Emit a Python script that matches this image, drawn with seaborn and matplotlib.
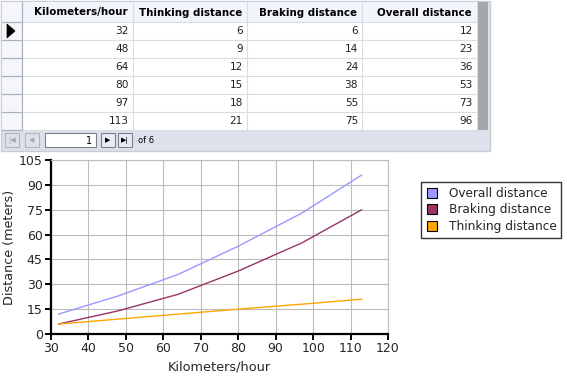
import matplotlib
matplotlib.use("Agg")
import matplotlib.pyplot as plt
import seaborn as sns
import pandas as pd
from matplotlib.patches import Rectangle, Polygon
from matplotlib.lines import Line2D

# ---- data ----
speed_kmh = [32, 48, 64, 80, 97, 113]
thinking = [6, 9, 12, 15, 18, 21]
braking = [6, 14, 24, 38, 55, 75]
overall = [12, 23, 36, 53, 73, 96]
columns = ["Kilometers/hour", "Thinking distance", "Braking distance", "Overall distance"]
series_names = ["Overall distance", "Braking distance", "Thinking distance"]
series_colors = ["#9999ff", "#993366", "#ffa500"]
x_ticks = [30, 40, 50, 60, 70, 80, 90, 100, 110, 120]
y_ticks = [0, 15, 30, 45, 60, 75, 90, 105]

sns.set_theme(style="white")
plt.rcParams['font.family'] = ['DejaVu Sans']

W, H = 567, 378
fig = plt.figure(figsize=(W / 100, H / 100), dpi=100)
fig.patch.set_facecolor("white")

# ---- overlay for the data grid (pixel coords) ----
ov = fig.add_axes([0, 0, 1, 1], zorder=0)
ov.set_xlim(0, W)
ov.set_ylim(H, 0)
ov.axis("off")

ov.add_patch(Rectangle((1, 1), 489, 150, facecolor="#dde2ea", edgecolor="#c8ccd4", lw=1))
ov.add_patch(Rectangle((2, 2), 475, 128, facecolor="white", edgecolor="none"))
ov.add_patch(Rectangle((477, 2), 11, 128, facecolor="#a4a8ac", edgecolor="none"))
ov.add_patch(Rectangle((2, 2), 20, 128, facecolor="#f4f6fa", edgecolor="none"))
ov.add_patch(Rectangle((22, 2), 455, 20, facecolor="#f2f5fb", edgecolor="none"))

col_edges = [22, 133, 247, 362, 477]
row_top, header_h, row_h = 2, 20, 18
n_rows = len(speed_kmh)
for i in range(n_rows + 1):
    y = row_top + header_h + i * row_h
    ov.plot([2, 477], [y, y], color="#d8dce4", lw=0.8)
ov.plot([2, 22], [22, 22], color="#a8b0c0", lw=0.8)
for i in range(1, n_rows + 1):
    y = row_top + header_h + i * row_h
    ov.plot([2, 22], [y, y], color="#a8b0c0", lw=0.8)
for x in col_edges:
    ov.plot([x, x], [2, 130], color="#d8dce4", lw=0.8)
ov.plot([22, 22], [2, 130], color="#a8b0c0", lw=0.8)

for j, name in enumerate(columns):
    ov.text(col_edges[j + 1] - 5, row_top + header_h / 2 + 0.5, name, ha="right", va="center",
            fontsize=7.4, fontweight="bold", color="black")
table_cols = [speed_kmh, thinking, braking, overall]
for i in range(n_rows):
    yc = row_top + header_h + i * row_h + row_h / 2 + 0.5
    for j, col in enumerate(table_cols):
        ov.text(col_edges[j + 1] - 4, yc, str(col[i]), ha="right", va="center",
                fontsize=7.6, color="#202020")
ov.add_patch(Polygon([[7, 24], [7, 38], [15, 31]], closed=True, facecolor="black",
                     edgecolor="black", lw=0.5))

def button(x, w, enabled=True):
    ov.add_patch(Rectangle((x, 133), w, 14, facecolor="#e8ecf2" if enabled else "#dde2ea",
                           edgecolor="#7a8290" if enabled else "#b0b6c0", lw=0.8))
button(5, 14, False)
button(25, 14, False)
ov.text(12, 140.5, "|◀", ha="center", va="center", fontsize=5, color="#a0a6b0")
ov.text(32, 140.5, "◀", ha="center", va="center", fontsize=5, color="#a0a6b0")
ov.add_patch(Rectangle((45, 133), 51, 14, facecolor="white", edgecolor="#7a8290", lw=0.8))
ov.text(92, 140.5, "1", ha="right", va="center", fontsize=7, color="black")
button(101, 14)
button(118, 14)
ov.text(108, 140.5, "▶", ha="center", va="center", fontsize=5, color="black")
ov.text(125, 140.5, "▶|", ha="center", va="center", fontsize=5, color="black")
ov.text(138, 140.5, "of 6", ha="left", va="center", fontsize=6, color="black")

# ---- chart ----
df = pd.DataFrame({
    "Kilometers/hour": speed_kmh * 3,
    "Distance": overall + braking + thinking,
    "Series": [series_names[0]] * 6 + [series_names[1]] * 6 + [series_names[2]] * 6,
})

ax = fig.add_axes([51 / W, (H - 334) / H, (388 - 51) / W, (334 - 160) / H], zorder=1)
sns.lineplot(data=df, x="Kilometers/hour", y="Distance", hue="Series",
             hue_order=series_names, palette=series_colors, lw=1.0, ax=ax, legend=False)
ax.set_xlim(30, 120)
ax.set_ylim(0, 105)
ax.set_xticks(x_ticks)
ax.set_yticks(y_ticks)
ax.grid(True, color="#bcbcbc", lw=0.8)
ax.set_axisbelow(True)
for s in ["top", "right"]:
    ax.spines[s].set_color("#bcbcbc")
    ax.spines[s].set_linewidth(0.8)
for s in ["left", "bottom"]:
    ax.spines[s].set_color("black")
    ax.spines[s].set_linewidth(1.6)
ax.tick_params(axis="both", direction="out", length=4, width=1.4, color="black",
               labelsize=9, pad=2, left=True, bottom=True)
ax.set_xlabel("Kilometers/hour", fontsize=9.3, labelpad=4)
ax.set_ylabel("Distance (meters)", fontsize=9.2, labelpad=2)

handles = [Line2D([], [], marker="s", linestyle="none", markersize=7, markerfacecolor=c,
                  markeredgecolor="black", markeredgewidth=0.8) for c in series_colors]
leg = fig.legend(handles, series_names, loc="upper left",
                 bbox_to_anchor=(421 / W, 1 - 182 / H), fontsize=8.7, frameon=True,
                 fancybox=False, edgecolor="black", handlelength=1.0, handletextpad=0.9,
                 labelspacing=0.3, borderpad=0.4, borderaxespad=0)
leg.get_frame().set_linewidth(1.0)

fig.savefig("out.png", dpi=100)
